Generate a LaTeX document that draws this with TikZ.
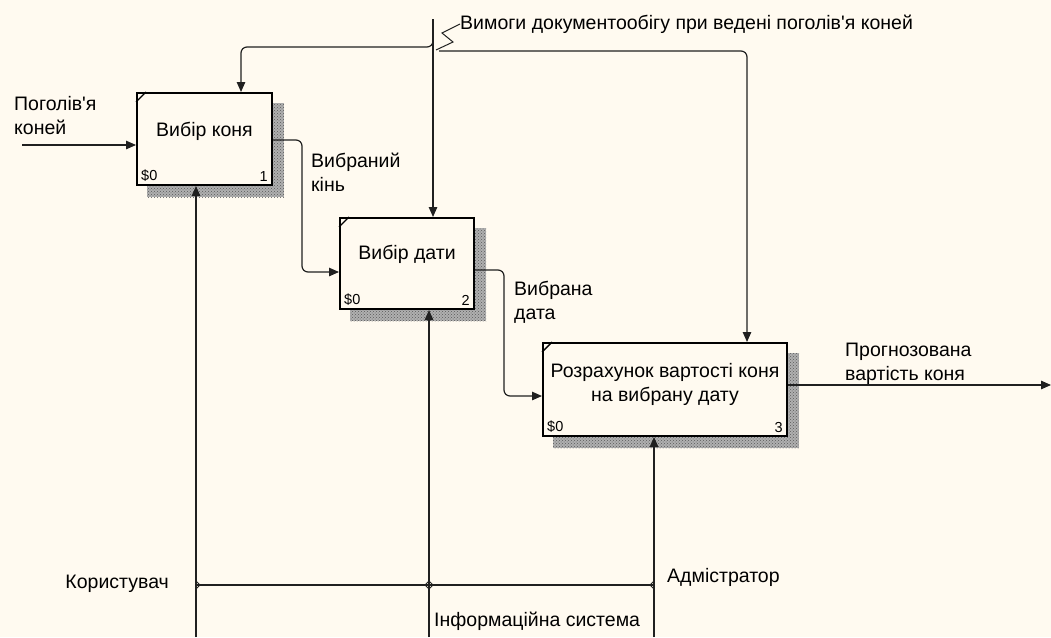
\documentclass[tikz,border=0pt]{standalone}
\usepackage{fontspec}
\newfontfamily\arialf{Liberation Sans}
\usetikzlibrary{arrows.meta,patterns}
\definecolor{bg}{HTML}{FFFAF0}
\definecolor{wirec}{HTML}{202020}
\pgfdeclarelayer{bgl}
\pgfdeclarelayer{shl}
\pgfsetlayers{bgl,shl,main}
\begin{document}
\begin{tikzpicture}[x=1pt,y=-1pt,
  every node/.style={font=\arialf\fontsize{19.5}{24}\selectfont, text=black},
  box/.style={draw=black, line width=2pt, fill=bg, inner sep=0pt},
  num/.style={font=\arialf\fontsize{14.5}{16}\selectfont, inner sep=0pt},
  lbl/.style={align=left, inner sep=0pt, anchor=west},
  wire/.style={draw=wirec, line width=1.2pt},
  arr/.style={wire, -{Triangle[length=10pt,width=8.5pt]}},
  rc/.style={rounded corners=6pt},
  shadow/.style={fill=gray!62},
  shadowdots/.style={pattern=crosshatch dots, pattern color=gray!70!black},
  jmark/.style={draw=wirec, line width=0.8pt}]
\begin{pgfonlayer}{bgl}
\fill[bg] (0,0) rectangle (1051,637);
\end{pgfonlayer}
\useasboundingbox (0,0) rectangle (1051,637);

% boxes
\node[box, minimum width=135pt, minimum height=92pt] (b1) at (204.5,139) {};
\node (t1) at (204.5,131) {Вибір коня};
\node[box, minimum width=134pt, minimum height=91pt] (b2) at (407,263.5) {};
\node (t2) at (407,254) {Вибір дати};
\node[box, minimum width=244pt, minimum height=93pt] (b3) at (665,389.5) {};
\node[align=center] (t3) at (665,384.5) {Розрахунок вартості коня\\на вибрану дату};

\foreach \b/\n in {b1/1,b2/2,b3/3}{
  \node[num, anchor=south west] (s\n) at ([shift={(5,-4)}]\b.south west) {\$0};
  \node[num, anchor=south east] (n\n) at ([shift={(-5,-4)}]\b.south east) {\n};
  \draw[line width=1.4pt] ([yshift=-10pt]\b.north west) -- ([xshift=10pt]\b.north west);
  \begin{pgfonlayer}{shl}
    \fill[shadow] ([shift={(11,11)}]\b.south west) rectangle ([shift={(11,11)}]\b.north east);
    \fill[shadowdots] ([shift={(11,11)}]\b.south west) rectangle ([shift={(11,11)}]\b.north east);
  \end{pgfonlayer}
}

% input
\coordinate (in1) at (22,145);
\draw[arr] (in1) -- (in1 -| b1.west);
\node[lbl] (l1) at (14,116) {Поголів'я\\коней};

% box1 -> box2
\draw[arr, rc] (b1.east |- 0,140) -- (302,140) -- (302,272) -- (b2.west |- 0,272);
\node[lbl] (l2) at (311,172) {Вибраний\\кінь};

% box2 -> box3
\draw[arr, rc] (b2.east |- 0,270) -- (504,270) -- (504,396) -- (b3.west |- 0,396);
\node[lbl] (l3) at (514,302) {Вибрана\\дата};

% output
\coordinate (out) at (1051,385);
\draw[arr] (b3.east |- out) -- (out);
\node[lbl] (l4) at (845,364) {Прогнозована\\вартість коня};

% control
\coordinate (ctop) at (433,19);
\coordinate (cx1) at (241,0);
\coordinate (cx3) at (747,0);
\draw[arr] (ctop) -- (ctop |- b2.north);
\draw[arr, rc] (433,38) |- (241,47) -- (cx1 |- b1.north);
\draw[arr, rc] (439,51) -- (747,51) -- (cx3 |- b3.north);
\node[lbl] (lc) at (460,24) {Вимоги документообігу при ведені поголів'я коней};
\draw[wire, line width=1pt] (436,50) -- (453,42) -- (442,33) -- (lc.west);

% mechanisms
\coordinate (m1) at (196,637);
\coordinate (m2) at (429,637);
\coordinate (m3) at (654,637);
\draw[arr] (m1) -- (m1 |- b1.south);
\draw[arr] (m2) -- (m2 |- b2.south);
\draw[arr] (m3) -- (m3 |- b3.south);
\draw[wire] (m1 |- 0,585) -- (m3 |- 0,585);
\draw[jmark] (196,581) -- (200,585) -- (196,589);
\draw[jmark] (425,585) -- (429,581) -- (433,585) -- (429,589) -- cycle;
\draw[jmark] (654,581) -- (650,585) -- (654,589);
\node[anchor=east, inner sep=0pt] (u1) at (169,584) {Користувач};
\node[anchor=west, inner sep=0pt] (u2) at (667,577) {Адмістратор};
\node[anchor=west, inner sep=0pt] (u3) at (434,621) {Інформаційна система};
\end{tikzpicture}
\end{document}
